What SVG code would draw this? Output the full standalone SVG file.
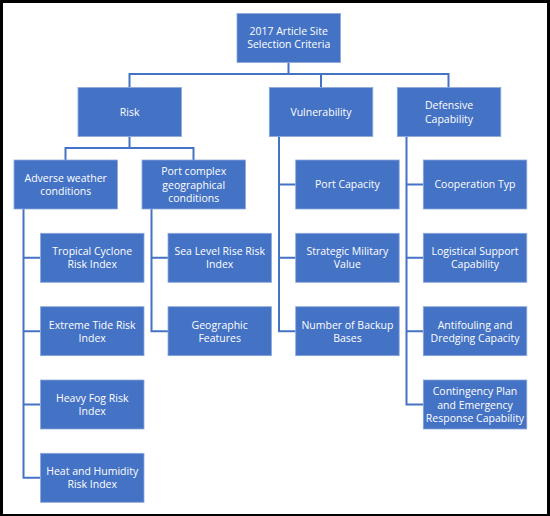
<svg xmlns="http://www.w3.org/2000/svg" width="550" height="516" viewBox="0 0 550 516">
<style>
.n rect{fill:#4472C4;stroke:#8EA9DB;stroke-width:0.8}
.n text{fill:#fff;font-family:"Open Sans","Liberation Sans",sans-serif;font-size:10.5px;text-anchor:middle}
.c path{fill:none;stroke:#4472C4;stroke-width:2;stroke-linejoin:miter}
</style>
<rect x="0" y="0" width="550" height="516" fill="#000"/>
<rect x="3" y="3" width="544" height="511" fill="#fff"/>
<g id="connectors" class="c">
<path d="M288.5,62.5 V74 M129.5,87.5 V74 H448.5 V87.5 M321,74 V87.5"/>
<path d="M129.5,136.5 V148 M65.5,160 V148 H193.5 V160"/>
<path d="M23.5,209 V477.8 H40.5 M23.5,257.8 H40.5 M23.5,331.2 H40.5 M23.5,404.5 H40.5"/>
<path d="M151.5,209 V331.2 H168 M151.5,257.8 H168"/>
<path d="M279,136.5 V331.2 H295.7 M279,184.5 H295.7 M279,257.8 H295.7"/>
<path d="M406.5,136.5 V404.5 H423.3 M406.5,184.5 H423.3 M406.5,257.8 H423.3 M406.5,331.2 H423.3"/>
</g>
<g id="root" class="n"><rect x="237" y="13.5" width="103.5" height="49"/><text x="288.7" y="35">2017 Article Site</text><text x="288.7" y="48.3">Selection Criteria</text></g>
<g id="risk" class="n"><rect x="78" y="87.5" width="103.5" height="49"/><text x="129.7" y="115.8">Risk</text></g>
<g id="vulnerability" class="n"><rect x="269.3" y="87.5" width="103.5" height="49"/><text x="321" y="115.8">Vulnerability</text></g>
<g id="defensive" class="n"><rect x="397.3" y="87.5" width="103.5" height="49"/><text x="449" y="109.2">Defensive</text><text x="449" y="122.5">Capability</text></g>
<g id="adverse" class="n"><rect x="14" y="160" width="103.5" height="49"/><text x="65.7" y="181.8">Adverse weather</text><text x="65.7" y="195.1">conditions</text></g>
<g id="portcomplex" class="n"><rect x="142" y="160" width="103.5" height="49"/><text x="193.7" y="175.2">Port complex</text><text x="193.7" y="188.5">geographical</text><text x="193.7" y="201.8">conditions</text></g>
<g id="tropical" class="n"><rect x="40.5" y="233.3" width="103.5" height="49"/><text x="92.2" y="255.1">Tropical Cyclone</text><text x="92.2" y="268.4">Risk Index</text></g>
<g id="extremetide" class="n"><rect x="40.5" y="306.7" width="103.5" height="49"/><text x="92.2" y="328.5">Extreme Tide Risk</text><text x="92.2" y="341.8">Index</text></g>
<g id="heavyfog" class="n"><rect x="40.5" y="380" width="103.5" height="49"/><text x="92.2" y="401.8">Heavy Fog Risk</text><text x="92.2" y="415.1">Index</text></g>
<g id="heat" class="n"><rect x="40.5" y="453.3" width="103.5" height="49"/><text x="92.2" y="475.1">Heat and Humidity</text><text x="92.2" y="488.4">Risk Index</text></g>
<g id="sealevel" class="n"><rect x="168" y="233.3" width="103.5" height="49"/><text x="219.7" y="255.1">Sea Level Rise Risk</text><text x="219.7" y="268.4">Index</text></g>
<g id="geographic" class="n"><rect x="168" y="306.7" width="103.5" height="49"/><text x="219.7" y="328.5">Geographic</text><text x="219.7" y="341.8">Features</text></g>
<g id="portcapacity" class="n"><rect x="295.7" y="160" width="103.5" height="49"/><text x="347.4" y="188.3">Port Capacity</text></g>
<g id="strategic" class="n"><rect x="295.7" y="233.3" width="103.5" height="49"/><text x="347.4" y="255.1">Strategic Military</text><text x="347.4" y="268.4">Value</text></g>
<g id="backup" class="n"><rect x="295.7" y="306.7" width="103.5" height="49"/><text x="347.4" y="328.5">Number of Backup</text><text x="347.4" y="341.8">Bases</text></g>
<g id="cooperation" class="n"><rect x="423.3" y="160" width="103.5" height="49"/><text x="475" y="188.3">Cooperation Typ</text></g>
<g id="logistical" class="n"><rect x="423.3" y="233.3" width="103.5" height="49"/><text x="475" y="255.1">Logistical Support</text><text x="475" y="268.4">Capability</text></g>
<g id="antifouling" class="n"><rect x="423.3" y="306.7" width="103.5" height="49"/><text x="475" y="328.5">Antifouling and</text><text x="475" y="341.8">Dredging Capacity</text></g>
<g id="contingency" class="n"><rect x="423.3" y="380" width="103.5" height="49"/><text x="475" y="395.2">Contingency Plan</text><text x="475" y="408.5">and Emergency</text><text x="475" y="421.8">Response Capability</text></g>
</svg>
